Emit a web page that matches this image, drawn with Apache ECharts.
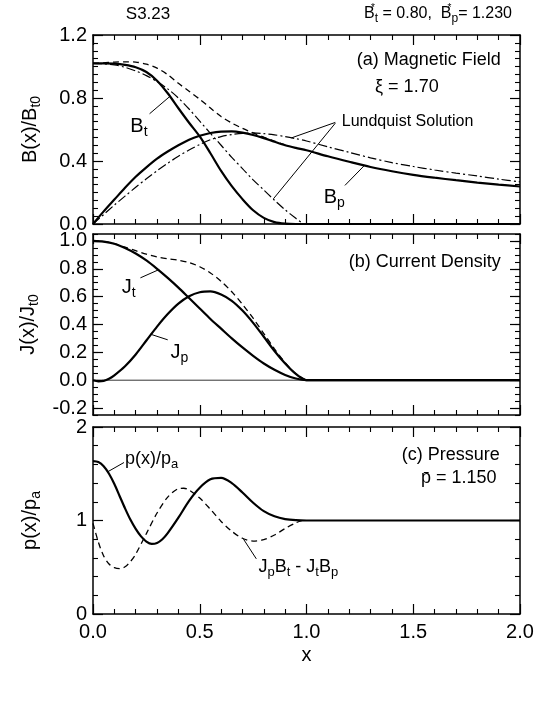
<!DOCTYPE html>
<html><head><meta charset="utf-8">
<script src="https://cdn.jsdelivr.net/npm/echarts@6/dist/echarts.min.js"></script>
<style>html,body{margin:0;padding:0;background:#fff}#c{width:547px;height:706px}</style>
</head><body><div id="c"></div>
<script>
// ---------- data ----------
// Panel (a) Magnetic field
const xA   = [0,0.05,0.1,0.15,0.2,0.25,0.3,0.35,0.4,0.45,0.5,0.55,0.6,0.65,0.7,0.75,0.8,0.85,0.9,0.95,1.0,1.1,1.2,1.3,1.4,1.5,1.6,1.7,1.8,1.9,2.0];
const bt   = [1.02,1.02,1.018,1.01,0.995,0.965,0.91,0.83,0.735,0.643,0.556,0.449,0.337,0.24,0.158,0.087,0.039,0.012,0.002,0,0,0,0,0,0,0,0,0,0,0,0];
const bp   = [0,0.08,0.155,0.23,0.3,0.36,0.415,0.46,0.5,0.535,0.56,0.578,0.587,0.588,0.58,0.565,0.545,0.522,0.5,0.483,0.468,0.43,0.395,0.362,0.335,0.312,0.294,0.278,0.263,0.25,0.238];
const bpL  = [0,0.06,0.12,0.177,0.233,0.287,0.338,0.386,0.43,0.47,0.505,0.535,0.555,0.568,0.576,0.578,0.574,0.566,0.555,0.542,0.527,0.49,0.455,0.42,0.39,0.365,0.343,0.323,0.305,0.285,0.268];
const xBtL = [0,0.05,0.1,0.15,0.2,0.25,0.3,0.35,0.4,0.45,0.5,0.55,0.6,0.65,0.7,0.75,0.8,0.85,0.9,0.95,0.985];
const btL  = [1.02,1.017,1.01,0.995,0.972,0.942,0.904,0.858,0.8,0.73,0.653,0.576,0.5,0.423,0.352,0.28,0.216,0.151,0.09,0.036,0];
const xBm  = [0,0.05,0.1,0.15,0.2,0.25,0.3,0.35,0.4,0.45,0.5,0.55,0.6,0.65,0.7,0.75,0.8,0.85,0.9];
const bMag = [1.02,1.023,1.028,1.03,1.028,1.015,0.99,0.948,0.893,0.843,0.792,0.736,0.682,0.641,0.607,0.578,0.551,0.526,0.502];

// Panel (b) Current density
const xJt  = [0,0.05,0.1,0.15,0.2,0.25,0.3,0.35,0.4,0.45,0.5,0.55,0.6,0.65,0.7,0.75,0.8,0.85,0.9,0.95,1.0,1.5,2.0];
const jt   = [1.0,0.995,0.98,0.95,0.91,0.86,0.8,0.735,0.665,0.59,0.515,0.44,0.37,0.3,0.235,0.175,0.12,0.075,0.038,0.012,0,0,0];
const xJp  = [0,0.025,0.05,0.075,0.1,0.15,0.2,0.25,0.3,0.35,0.4,0.45,0.5,0.55,0.6,0.65,0.7,0.75,0.8,0.85,0.9,0.95,1.0,1.5,2.0];
const jp   = [0,-0.008,-0.005,0.01,0.035,0.1,0.185,0.285,0.385,0.475,0.55,0.603,0.632,0.638,0.615,0.57,0.5,0.412,0.312,0.21,0.12,0.045,0,0,0];
const xJm  = [0,0.05,0.1,0.15,0.2,0.25,0.3,0.35,0.4,0.45,0.5,0.55,0.6,0.65,0.7,0.75,0.8,0.85,0.9,0.95,1.0];
const jMag = [1.0,0.995,0.981,0.955,0.93,0.905,0.885,0.872,0.862,0.845,0.815,0.77,0.71,0.635,0.545,0.445,0.335,0.225,0.127,0.047,0];
const zeroLine = [[0,0],[2,0]];

// Panel (c) Pressure
const xP   = [0,0.025,0.05,0.075,0.1,0.125,0.15,0.175,0.2,0.225,0.25,0.275,0.3,0.325,0.35,0.4,0.45,0.5,0.55,0.6,0.65,0.7,0.75,0.8,0.85,0.9,0.95,1.0,1.5,2.0];
const pv   = [1.635,1.625,1.58,1.5,1.39,1.26,1.13,1.01,0.91,0.83,0.775,0.75,0.76,0.8,0.865,1.03,1.21,1.35,1.44,1.455,1.4,1.3,1.19,1.1,1.045,1.015,1.003,1.0,1.0,1.0];
const xF   = [0,0.025,0.05,0.075,0.1,0.125,0.15,0.175,0.2,0.25,0.3,0.35,0.4,0.425,0.45,0.5,0.55,0.6,0.65,0.7,0.75,0.8,0.85,0.9,0.95,0.98];
const fv   = [0.97,0.77,0.62,0.535,0.495,0.485,0.505,0.56,0.64,0.86,1.08,1.25,1.34,1.345,1.325,1.24,1.12,0.99,0.885,0.81,0.78,0.795,0.845,0.915,0.975,1.0];

// Axis ranges / ticks
const xTicks  = {min:0, max:2, step:0.5, minor:5};
const yTicksA = {min:0, max:1.2, step:0.4, minor:8};
const yTicksB = {min:-0.25, max:1.05, step:0.05, majors:[-0.2,0,0.2,0.4,0.6,0.8,1.0]};
const yTicksC = {min:0, max:2, step:1, minor:5};

// Pointer lines (data coordinates)
const ptrBt  = [[0.265,0.70],[0.36,0.81]];
const ptrL1  = [[1.135,0.645],[0.93,0.547]];
const ptrL2  = [[1.135,0.64],[0.845,0.16]];
const ptrBp  = [[1.18,0.245],[1.27,0.37]];
const ptrJt  = [[0.222,0.735],[0.31,0.795]];
const ptrJp  = [[0.35,0.29],[0.27,0.33]];
const ptrP   = [[0.145,1.62],[0.068,1.52]];
const ptrF   = [[0.765,0.59],[0.705,0.8]];

// ---------- chart ----------
const FONT = '"Liberation Sans", Arial, Helvetica, sans-serif';
const zip = (xs, ys) => xs.map((x, i) => [x, ys[i]]);
const fmt1 = v => Math.abs(v) < 1e-9 ? '0.0' : v.toFixed(1);
const fmtInt = v => String(Math.round(v));
const fmtB = v => { const k = Math.round(v * 20); return (k % 4 === 0) ? fmt1(k / 20) : ''; };

const G = [
  {left:93, right:27, top:35, height:189},
  {left:93, right:27, top:234, height:181},
  {left:93, right:27, top:427, height:187}
];
const lineS = {color:'#000', width:1.5};
const TICKFS = 20;
function xAx(g, pos, labels) {
  return {
    type:'value', gridIndex:g, position:pos, min:xTicks.min, max:xTicks.max, interval:xTicks.step,
    axisLine:{show:true, onZero:false, lineStyle:lineS},
    axisTick:{show:true, inside:true, length:10, lineStyle:{color:'#000', width:1.2}},
    minorTick:{show:true, splitNumber:xTicks.minor, length:5, lineStyle:{color:'#000', width:1.1}},
    splitLine:{show:false}, minorSplitLine:{show:false},
    axisLabel:{show:labels, color:'#000', fontSize:TICKFS, fontFamily:FONT, margin:8, formatter:fmt1},
    name: labels ? 'x' : '', nameLocation:'middle', nameGap:31,
    nameTextStyle:{color:'#000', fontSize:20, fontFamily:FONT}
  };
}
function nameOpts(o, nameRich) {
  o.name = nameRich; o.nameLocation = 'middle'; o.nameGap = 50; o.nameRotate = 90;
  o.nameTextStyle = {color:'#000', fontSize:20, fontFamily:FONT, rich:{
    n:{color:'#000', fontSize:20, fontFamily:FONT},
    s:{color:'#000', fontSize:14, fontFamily:FONT, padding:[12,0,0,0]}
  }};
  return o;
}
function yAx(g, pos, t, labels, fmt, nameRich) {
  const o = {
    type:'value', gridIndex:g, position:pos, min:t.min, max:t.max, interval:t.step,
    axisLine:{show:true, onZero:false, lineStyle:lineS},
    axisTick:{show:true, inside:true, length:10, lineStyle:{color:'#000', width:1.2}},
    minorTick:{show:true, splitNumber:t.minor, length:5, lineStyle:{color:'#000', width:1.1}},
    splitLine:{show:false}, minorSplitLine:{show:false},
    axisLabel:{show:labels, color:'#000', fontSize:TICKFS, fontFamily:FONT, margin:6, formatter:fmt}
  };
  if (nameRich) nameOpts(o, nameRich);
  return o;
}
// panel (b): short ticks every 0.05 on the main axis, long ticks on an overlay axis
function yAxB(pos, labels, nameRich) {
  const o = {
    type:'value', gridIndex:1, position:pos, min:yTicksB.min, max:yTicksB.max, interval:yTicksB.step,
    axisLine:{show:true, onZero:false, lineStyle:lineS},
    axisTick:{show:true, inside:true, length:5, lineStyle:{color:'#000', width:1.1}},
    minorTick:{show:false}, splitLine:{show:false},
    axisLabel:{show:labels, color:'#000', fontSize:TICKFS, fontFamily:FONT, margin:6, formatter:fmtB}
  };
  if (nameRich) nameOpts(o, nameRich);
  return o;
}
function yAxBLong(pos) {
  return {
    type:'value', gridIndex:1, position:pos, min:yTicksB.min, max:yTicksB.max, interval:yTicksB.step,
    axisLine:{show:false, onZero:false},
    axisTick:{show:true, inside:true, length:10, customValues:yTicksB.majors, lineStyle:{color:'#000', width:1.2}},
    minorTick:{show:false}, splitLine:{show:false}, axisLabel:{show:false}
  };
}

const xAxis = [xAx(0,'bottom',false), xAx(0,'top',false), xAx(1,'bottom',false), xAx(1,'top',false), xAx(2,'bottom',true), xAx(2,'top',false)];
const yAxis = [
  yAx(0,'left',yTicksA,true,fmt1,'{n|B(x)/B}{s|t0}'), yAx(0,'right',yTicksA,false,fmt1),
  yAxB('left',true,'{n|J(x)/J}{s|t0}'), yAxB('right',false),
  yAx(2,'left',yTicksC,true,fmtInt,'{n|p(x)/p}{s|a}'), yAx(2,'right',yTicksC,false,fmtInt),
  yAxBLong('left'), yAxBLong('right')
];

function S(panel, data, style) {
  return Object.assign({
    type:'line', xAxisIndex:panel*2, yAxisIndex:panel*2, data:data, showSymbol:false, symbol:'none',
    smooth:0.3, silent:true, animation:false, z:3,
    lineStyle:{color:'#000', width:2.2, type:'solid'}
  }, style || {});
}
const THICK = {lineStyle:{color:'#000', width:2.2}};
const DASH  = {lineStyle:{color:'#000', width:1.3, type:[6,4]}};
const DDOT  = {lineStyle:{color:'#000', width:1.2, type:[9,3,2,3]}};
const THIN  = {smooth:false, lineStyle:{color:'#000', width:1}};

const series = [
  S(0, zip(xA, bt), THICK),
  S(0, zip(xA, bp), THICK),
  S(0, zip(xA, bpL), DDOT),
  S(0, zip(xBtL, btL), DDOT),
  S(0, zip(xBm, bMag), DASH),
  S(0, ptrBt, THIN), S(0, ptrL1, THIN), S(0, ptrL2, THIN), S(0, ptrBp, THIN),
  S(1, zeroLine, {smooth:false, lineStyle:{color:'#000', width:0.8}}),
  S(1, zip(xJt, jt), THICK),
  S(1, zip(xJp, jp), THICK),
  S(1, zip(xJm, jMag), DASH),
  S(1, ptrJt, THIN), S(1, ptrJp, THIN),
  S(2, zip(xP, pv), THICK),
  S(2, zip(xF, fv), DASH),
  S(2, ptrP, THIN), S(2, ptrF, THIN)
];
const panelSeries = [0, 9, 15];

const chart = echarts.init(document.getElementById('c'), null, {renderer:'canvas'});
chart.setOption({animation:false, backgroundColor:'#fff', grid:G, xAxis, yAxis, series});

function rich(fs) {
  return {
    n:{fontSize:fs, fontFamily:FONT, fill:'#000'},
    s:{fontSize:Math.round(fs*0.72), fontFamily:FONT, fill:'#000', padding:[Math.round(fs*0.6),0,0,0]},
    u:{fontSize:Math.round(fs*0.62), fontFamily:FONT, fill:'#000', padding:[0,0,Math.round(fs*0.75),0], width:0}
  };
}
function txt(px, py, text, fs, align) {
  return {type:'text', x:px, y:py, silent:true, z:10,
    style:{text:text, rich:rich(fs), fill:'#000', fontSize:fs, fontFamily:FONT,
      align:align, textAlign:align, verticalAlign:'middle', textVerticalAlign:'middle'}};
}
// annotations in data coordinates: [panel, x, y, text, fontSize, align]
const ann = [
  [0, 1.91, 1.04, '{n|(a) Magnetic Field}', 18, 'right'],
  [0, 1.47, 0.87, '{n|\u03be = 1.70}', 18, 'center'],
  [0, 1.165, 0.65, '{n|Lundquist Solution}', 16, 'left'],
  [0, 0.215, 0.62, '{n|B}{s|t}', 20, 'center'],
  [0, 1.13, 0.17, '{n|B}{s|p}', 20, 'center'],
  [1, 1.91, 0.85, '{n|(b) Current Density}', 18, 'right'],
  [1, 0.167, 0.665, '{n|J}{s|t}', 20, 'center'],
  [1, 0.405, 0.2, '{n|J}{s|p}', 20, 'center'],
  [2, 1.905, 1.70, '{n|(c) Pressure}', 18, 'right'],
  [2, 1.89, 1.45, '{n|p\u0304 = 1.150}', 18, 'right'],
  [2, 0.15, 1.66, '{n|p(x)/p}{s|a}', 18, 'left'],
  [2, 0.775, 0.5, '{n|J}{s|p}{n|B}{s|t}{n| - J}{s|t}{n|B}{s|p}', 18, 'left']
];
const graphics = ann.map(a => {
  const p = chart.convertToPixel({seriesIndex: panelSeries[a[0]]}, [a[1], a[2]]);
  return txt(p[0], p[1], a[3], a[4], a[5]);
});
graphics.push(txt(148, 14, '{n|S3.23}', 17, 'center'));
graphics.push(txt(512, 14, '{n|B}{u|*}{s|t}{n| = 0.80,  B}{u|*}{s|p}{n|= 1.230}', 16, 'right'));
chart.setOption({graphic: graphics});
</script>
</body></html>
